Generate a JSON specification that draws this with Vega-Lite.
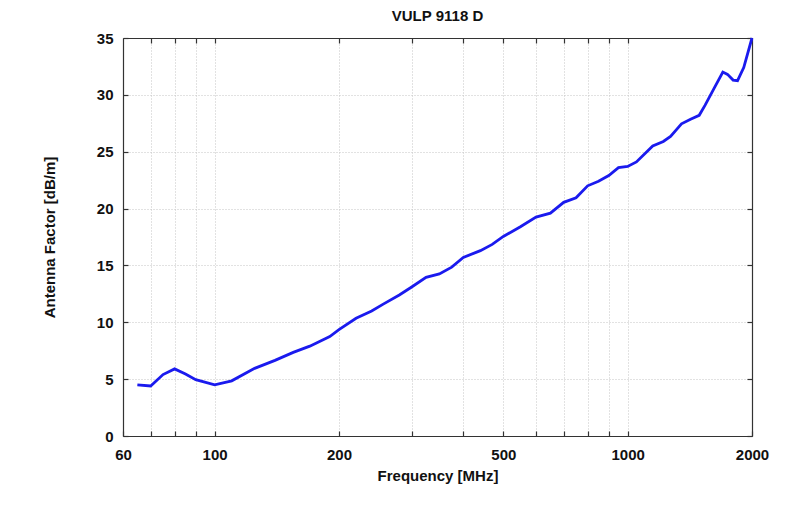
{
  "$schema": "https://vega.github.io/schema/vega-lite/v6.json",
  "description": "Antenna factor of the VULP 9118 D antenna against frequency.",
  "width": 629,
  "height": 398,
  "autosize": "none",
  "padding": {"left": 123, "top": 38, "right": 48, "bottom": 83},
  "background": "white",
  "title": {
    "text": "VULP 9118 D",
    "font": "Liberation Sans",
    "fontSize": 15,
    "fontWeight": "bold",
    "color": "#111111",
    "anchor": "middle",
    "offset": 7
  },
  "config": {
    "view": {"stroke": null},
    "axis": {
      "labelFont": "Liberation Sans",
      "labelFontSize": 15,
      "labelFontWeight": "bold",
      "labelColor": "#111111",
      "titleFont": "Liberation Sans",
      "titleFontSize": 15,
      "titleFontWeight": "bold",
      "titleColor": "#111111",
      "domainColor": "#333333",
      "domainWidth": 1.2,
      "tickColor": "#333333",
      "tickSize": -5,
      "tickWidth": 1.2,
      "gridColor": "#c4c4c4",
      "gridDash": [1, 2],
      "gridWidth": 1
    }
  },
  "data": {
    "values": [
      {"f": 65, "af": 4.5},
      {"f": 70, "af": 4.4},
      {"f": 75, "af": 5.4},
      {"f": 80, "af": 5.9},
      {"f": 85, "af": 5.45},
      {"f": 90, "af": 4.95},
      {"f": 100, "af": 4.5},
      {"f": 110, "af": 4.85},
      {"f": 125, "af": 5.95},
      {"f": 140, "af": 6.65},
      {"f": 155, "af": 7.35},
      {"f": 170, "af": 7.9},
      {"f": 190, "af": 8.75},
      {"f": 200, "af": 9.35},
      {"f": 220, "af": 10.35},
      {"f": 240, "af": 11.0},
      {"f": 256, "af": 11.6},
      {"f": 280, "af": 12.4},
      {"f": 300, "af": 13.1},
      {"f": 325, "af": 13.95},
      {"f": 350, "af": 14.25},
      {"f": 375, "af": 14.85},
      {"f": 400, "af": 15.7},
      {"f": 440, "af": 16.3},
      {"f": 470, "af": 16.85},
      {"f": 500, "af": 17.55},
      {"f": 550, "af": 18.4},
      {"f": 600, "af": 19.25},
      {"f": 650, "af": 19.6},
      {"f": 700, "af": 20.55},
      {"f": 750, "af": 20.95},
      {"f": 800, "af": 22.0},
      {"f": 850, "af": 22.4},
      {"f": 900, "af": 22.9},
      {"f": 950, "af": 23.6},
      {"f": 1000, "af": 23.7},
      {"f": 1050, "af": 24.1},
      {"f": 1150, "af": 25.5},
      {"f": 1220, "af": 25.9},
      {"f": 1270, "af": 26.35},
      {"f": 1350, "af": 27.45},
      {"f": 1420, "af": 27.85},
      {"f": 1490, "af": 28.2},
      {"f": 1540, "af": 29.1},
      {"f": 1620, "af": 30.6},
      {"f": 1700, "af": 32.0},
      {"f": 1745, "af": 31.8},
      {"f": 1800, "af": 31.3},
      {"f": 1845, "af": 31.25},
      {"f": 1910, "af": 32.4},
      {"f": 2000, "af": 35.0}
    ]
  },
  "layer": [
    {
      "mark": {"type": "line", "color": "#1a1aee", "strokeWidth": 2.8},
      "encoding": {
        "x": {
          "field": "f",
          "type": "quantitative",
          "scale": {"type": "log", "domain": [60, 2000], "nice": false},
          "axis": {
            "orient": "bottom",
            "title": "Frequency [MHz]",
            "values": [60, 70, 80, 90, 100, 200, 300, 400, 500, 600, 700, 800, 900, 1000, 2000],
            "labelExpr": "indexof([60, 100, 200, 500, 1000, 2000], datum.value) >= 0 ? datum.value : ''",
            "labelFlush": false,
            "labelOverlap": false,
            "labelPadding": 16,
            "titlePadding": 6,
            "grid": true
          }
        },
        "y": {
          "field": "af",
          "type": "quantitative",
          "scale": {"domain": [0, 35], "nice": false},
          "axis": {
            "orient": "left",
            "title": "Antenna Factor [dB/m]",
            "values": [0, 5, 10, 15, 20, 25, 30, 35],
            "labelPadding": 15,
            "titlePadding": 39,
            "grid": true
          }
        }
      }
    },
    {
      "mark": {"type": "line", "strokeOpacity": 0},
      "encoding": {
        "x": {
          "field": "f",
          "type": "quantitative",
          "scale": {"type": "log", "domain": [60, 2000], "nice": false},
          "axis": {
            "orient": "top",
            "title": null,
            "labels": false,
            "grid": false,
            "values": [70, 80, 90, 100, 200, 300, 400, 500, 600, 700, 800, 900, 1000]
          }
        },
        "y": {
          "field": "af",
          "type": "quantitative",
          "scale": {"domain": [0, 35], "nice": false},
          "axis": {
            "orient": "right",
            "title": null,
            "labels": false,
            "grid": false,
            "values": [0, 5, 10, 15, 20, 25, 30, 35]
          }
        }
      }
    }
  ],
  "resolve": {"axis": {"x": "independent", "y": "independent"}}
}
